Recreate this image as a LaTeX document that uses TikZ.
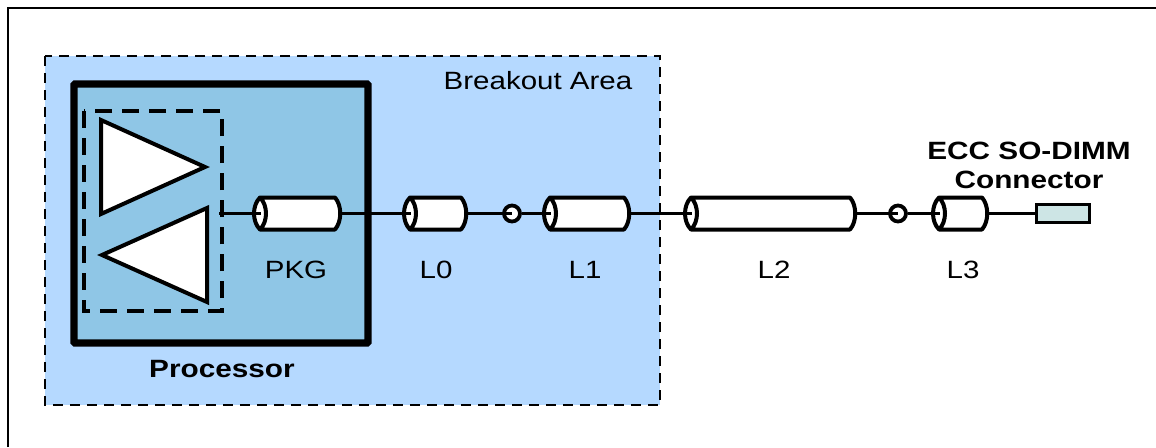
\documentclass[tikz,border=0pt]{standalone}
\usepackage{fontspec}
\setmainfont{Liberation Sans}
\newcommand{\cylbox}[4]{% name, xl, xr, centre y
  \node[cylnode,minimum width=#3pt-#2pt] (#1) at ({(#2+#3)/2},#4) {};
  \coordinate (#1-in) at ({#2+7},#4);
  \fill[white] ({#2+6},#4-16) -- ({#3-6},#4-16) .. controls ({#3+1},#4-8) and ({#3+1},#4+8) .. ({#3-6},#4+16) -- ({#2+6},#4+16) .. controls ({#2-2},#4+8) and ({#2-2},#4-8) .. ({#2+6},#4-16) -- cycle;
  \draw[cylline] ({#2+6},#4-16) -- ({#3-6},#4-16) .. controls ({#3+1},#4-8) and ({#3+1},#4+8) .. ({#3-6},#4+16) -- ({#2+6},#4+16) .. controls ({#2-2},#4+8) and ({#2-2},#4-8) .. ({#2+6},#4-16) .. controls ({#2+14},#4-8) and ({#2+14},#4+8) .. ({#2+6},#4+16);
}
\tikzset{
  cylnode/.style={rectangle,inner sep=0pt,minimum height=33pt},
  cylline/.style={line width=4pt,line join=round},
  wire/.style={line width=3.4pt},
  lbl/.style={font=\fontsize{25}{25}\selectfont,inner sep=0pt,xscale=1.18},
  blbl/.style={font=\fontsize{25}{29}\selectfont\bfseries,inner sep=0pt,xscale=1.19,align=center},
  joint/.style={circle,draw,line width=3.8pt,fill=white,minimum size=16pt,inner sep=0pt},
  amp/.style={draw,line width=4pt,fill=white,line join=miter},
}
\begin{document}
\begin{tikzpicture}[x=1pt,y=-1pt]
\useasboundingbox (0,0) rectangle (1156,447);
\draw[line width=2.6pt] (8,447) -- (8,8) -- (1156,8);
\draw[fill={rgb,255:red,181;green,217;blue,255},line width=2.6pt,dash pattern=on 10pt off 7pt] (45,56) rectangle (660,405);
\node[lbl] (ba) at (538,81) {Breakout Area};
\draw[fill={rgb,255:red,143;green,198;blue,230},line width=7.4pt,rounded corners=1pt] (74,84) rectangle (368,343);
\node[blbl] (proc) at (222,369) {Processor};
\draw[line width=3.8pt,dash pattern=on 17pt off 10pt] (84,111) rectangle (222,311);
\draw[amp] (101,120) -- (205,167) -- (101,214) -- cycle;
\draw[amp] (207,208) -- (207,302) -- (102,255) -- cycle;
\coordinate (src) at (219,213.5);
\cylbox{pkg}{254}{341}{213.5}
\cylbox{l0}{404}{467}{213.5}
\cylbox{l1}{544}{630}{213.5}
\cylbox{l2}{685}{856}{213.5}
\cylbox{l3}{933}{988}{213.5}
\node[joint] (j1) at (512,213.5) {};
\node[joint] (j2) at (898,213.5) {};
\node[draw,line width=3.8pt,fill={rgb,255:red,205;green,229;blue,229},minimum width=53pt,minimum height=18pt,inner sep=0pt] (conn) at (1063,213.5) {};
\draw[wire] (src) -- (pkg-in);
\draw[wire] (pkg.east) -- (l0-in);
\draw[wire] (l0.east) -- (j1.center);
\draw[wire] (j1.east) -- (l1-in);
\draw[wire] (l1.east) -- (l2-in);
\draw[wire] (l2.east) -- (j2.center);
\draw[wire] (j2.east) -- (l3-in);
\draw[wire] (l3.east) -- (conn.west);
\node[lbl] (tp) at (296,270) {PKG};
\node[lbl] (t0) at (436,270) {L0};
\node[lbl] (t1) at (585,270) {L1};
\node[lbl] (t2) at (774,270) {L2};
\node[lbl] (t3) at (963,270) {L3};
\node[blbl] (ecc) at (1029,165) {ECC SO-DIMM\\Connector};
\end{tikzpicture}
\end{document}
